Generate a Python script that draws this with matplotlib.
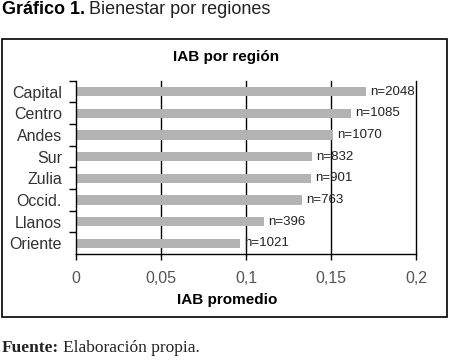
import matplotlib
matplotlib.use("Agg")
import matplotlib.pyplot as plt
from matplotlib.patches import Rectangle

regions = ["Capital", "Centro", "Andes", "Sur", "Zulia", "Occid.", "Llanos", "Oriente"]
iab = [0.1706, 0.1618, 0.1514, 0.1388, 0.1382, 0.1331, 0.1106, 0.0965]
n_labels = ["n=2048", "n=1085", "n=1070", "n=832", "n=901", "n=763", "n=396", "n=1021"]
xticks = [0, 0.05, 0.1, 0.15, 0.2]
xtick_labels = ["0", "0,05", "0,1", "0,15", "0,2"]

W, H = 450, 361
fig = plt.figure(figsize=(W/100, H/100), dpi=100)
fig.patch.set_facecolor("white")

def fx(px): return px / W
def fy(py): return 1 - py / H

sans = ["Liberation Sans", "DejaVu Sans"]
ax = fig.add_axes([fx(76), fy(254), fx(416) - fx(76), fy(80.7) - fy(254)])
ypos = list(range(len(regions)))[::-1]
ax.barh(ypos, iab, height=0.43, color="#b3b3b3", zorder=2)
ax.set_xlim(0, 0.2)
ax.set_ylim(-0.5, len(regions) - 0.5)
for x in xticks[1:]:
    ax.axvline(x, color="black", lw=1.0, zorder=1, clip_on=False)
for y, v, lab in zip(ypos, iab, n_labels):
    ax.text(v + 0.0025, y, lab, va="center", ha="left", fontsize=9.5,
            family=sans, color="#222222", zorder=3)

ax.set_xticks(xticks)
ax.set_xticklabels(xtick_labels, family=sans, fontsize=11.5, color="#555555")
ax.set_yticks([y - 0.5 for y in range(1, len(regions))] + [len(regions) - 0.5])
ax.set_yticklabels([])
ax.set_yticks(ypos, minor=True)
ax.set_yticklabels(regions, minor=True, family=sans, fontsize=11.5, color="#333333")
ax.tick_params(axis="y", which="minor", length=0, pad=10)
ax.tick_params(axis="y", which="major", length=5, width=1, direction="out")
ax.tick_params(axis="x", length=4, width=1, direction="out", pad=8)
for s in ["top", "right"]:
    ax.spines[s].set_visible(False)
for s in ["left", "bottom"]:
    ax.spines[s].set_linewidth(1.0)

fig.text(fx(226), fy(57.5), "IAB por región", ha="center", va="center",
         fontsize=11, fontweight="bold", family=sans)
fig.text(fx(227), fy(300), "IAB promedio", ha="center", va="center",
         fontsize=11, fontweight="bold", family=sans)

fig.patches.append(Rectangle((fx(1.5), fy(317)), fx(447) - fx(1.5), fy(38.7) - fy(317),
                             transform=fig.transFigure, fill=False, lw=1.2,
                             edgecolor="black"))

t1 = fig.text(fx(2), fy(10), "Gráfico 1.", ha="left", va="center", fontsize=13,
              fontweight="bold", family=sans)
fig.canvas.draw()
bb = t1.get_window_extent()
fig.text(bb.x1 / W + fx(4), fy(10), "Bienestar por regiones", ha="left", va="center",
         fontsize=13, family=sans, color="#222222")

serif = ["Liberation Serif", "DejaVu Serif"]
t2 = fig.text(fx(2), fy(348), "Fuente:", ha="left", va="center", fontsize=12.5,
              family=serif, color="#222222", fontweight="bold")
fig.canvas.draw()
bb2 = t2.get_window_extent()
fig.text(bb2.x1 / W + fx(4), fy(348), "Elaboración propia.", ha="left", va="center",
         fontsize=12.5, family=serif, color="#222222")

fig.savefig("out.png", dpi=100)
